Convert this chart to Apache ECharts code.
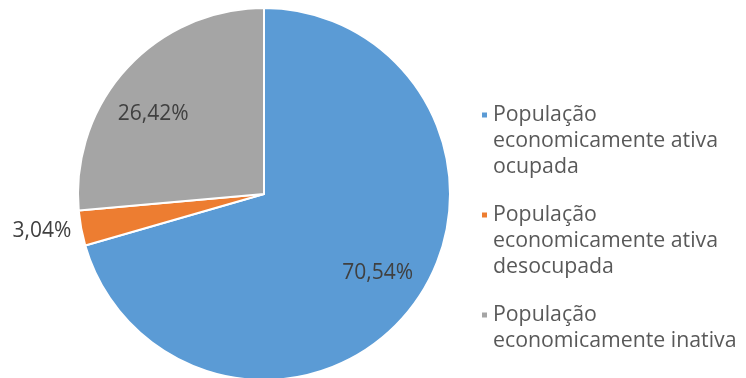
<!DOCTYPE html>
<html>
<head>
<meta charset="utf-8">
<script src="https://cdn.jsdelivr.net/npm/echarts@6/dist/echarts.min.js"></script>
<style>
  html, body { margin: 0; padding: 0; background: #fff; }
  #box { width: 746px; height: 378px; }
</style>
</head>
<body>
<div id="box"></div>
<script>
// dados do gráfico
var categories = [
    'População\neconomicamente ativa\nocupada',
    'População\neconomicamente ativa\ndesocupada',
    'População\neconomicamente inativa'
];
var values = [70.54, 3.04, 26.42];
var colors = ['#5B9BD5', '#ED7D31', '#A5A5A5'];

var chart = echarts.init(document.getElementById('box'));
var cx = 264, cy = 194, r = 186;
// deslocamento dos rótulos internos (estilo)
var labelShift = [[37, 21], [0, 2], [-40, -15]];

var data = categories.map(function (name, i) {
    var item = { value: values[i], name: name, itemStyle: { color: colors[i] } };
    if (i === 1) {
        item.label = { position: 'outside' };
        item.labelLine = { show: false, length: 5, length2: 0 };
    }
    return item;
});

var option = {
    animation: false,
    legend: {
        orient: 'vertical',
        left: 475,
        top: 45,
        height: 400,
        icon: 'rect',
        itemWidth: 7,
        itemHeight: 7,
        itemGap: -30,
        selectedMode: false,
        data: categories,
        formatter: function (name) {
            // linhas vazias em cima/baixo para que o marcador fique na primeira linha
            var lines = name.split('\n');
            while (lines.length < 3) lines.push(' ');
            return '\n\n' + lines.join('\n');
        },
        textStyle: {
            fontFamily: 'Open Sans',
            fontSize: 21.3,
            lineHeight: 26,
            color: '#595959'
        }
    },
    series: [
        {
            type: 'pie',
            center: [cx, cy],
            radius: r,
            startAngle: 90,
            clockwise: true,
            avoidLabelOverlap: false,
            itemStyle: { borderColor: '#fff', borderWidth: 2 },
            label: {
                position: 'inside',
                formatter: function (p) { return p.value.toFixed(2).replace('.', ',') + '%'; },
                fontFamily: 'Open Sans',
                fontSize: 21,
                color: '#404040'
            },
            labelLine: { show: false },
            labelLayout: function (p) {
                return { dx: labelShift[p.dataIndex][0], dy: labelShift[p.dataIndex][1] };
            },
            data: data
        }
    ]
};
chart.setOption(option);
</script>
</body>
</html>
